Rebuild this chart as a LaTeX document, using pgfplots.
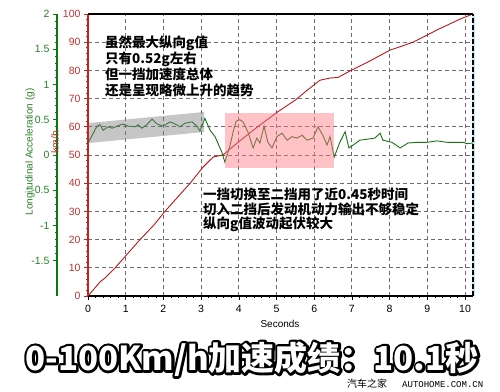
\documentclass[border=0pt]{standalone}
\usepackage{pgfplots}
\pgfplotsset{compat=1.18}
\usepackage{fontspec}
\setmainfont{Liberation Sans}
\newfontfamily\cjk{Noto Sans CJK SC}
\newfontfamily\wmono{Liberation Mono}
\definecolor{spd}{RGB}{185,25,25}
\definecolor{raxis}{RGB}{205,30,30}
\definecolor{rlab}{RGB}{190,50,50}
\definecolor{acc}{RGB}{25,115,25}
\definecolor{gaxis}{RGB}{10,120,10}
\definecolor{glab}{RGB}{40,130,40}
\definecolor{gridc}{RGB}{110,110,110}
\definecolor{pinkc}{RGB}{255,120,130}
\definecolor{grayc}{RGB}{120,120,120}
\begin{document}
\begin{tikzpicture}
\useasboundingbox (0,0) rectangle (500pt,391pt);
% ---------- dashed grid (filled dashes), aligned with the axis box ----------
\begin{scope}[x=1pt, y=1pt, shift={(88pt,95pt)}]
\foreach \t in {1,...,10} {
  \foreach \s in {0,7,...,280} {
    \fill[gridc] ({\t*37.7-0.45},\s) rectangle ({\t*37.7+0.45},{min(\s+4,282)});
  }
}
\foreach \v in {1,...,9} {
  \foreach \s in {0,7,...,378} {
    \fill[gridc] (\s,{\v*28.2-0.45}) rectangle ({min(\s+4,385)},{\v*28.2+0.45});
  }
}
\end{scope}
% ---------- main axis: speed ----------
\begin{axis}[
  at={(88pt,95pt)}, anchor=south west, scale only axis,
  width=385pt, height=282pt,
  xmin=0, xmax=10.212, ymin=0, ymax=100,
  axis x line*=bottom, axis y line*=left,
  x axis line style={black, line width=1.6pt, -},
  y axis line style={raxis, line width=2pt, -},
  xtick={0,1,...,10}, ytick={0,10,...,100},
  minor x tick num=4, minor y tick num=4,
  tick align=outside, major tick length=4pt, minor tick length=2pt,
  x tick style={black, line width=0.6pt},
  y tick style={raxis, line width=0.7pt},
  /pgf/number format/assume math mode=true,
  ticklabel style={font=\fontsize{10.5}{12}\selectfont},
  yticklabel style={text=rlab},
  xticklabel style={text=black, yshift=-2pt},
  clip=false,
]
\addplot[spd, line width=0.9pt] coordinates {
(0,0) (0.32,5) (0.45,6.4) (0.72,10) (1.05,15) (1.38,20) (1.75,25.2) (2.04,30)
(2.36,34.8) (2.71,40) (3.05,45.7) (3.32,49.3) (3.58,50) (3.8,52.5) (4.1,55.8)
(4.5,60) (5.0,65) (5.5,69.5) (5.8,72.8) (6.15,76.5) (6.42,77.3) (6.63,77.5)
(6.95,79.8) (7.5,83.5) (8.01,87.2) (8.3,88.5) (8.62,90) (8.99,92.5) (9.25,94.3)
(9.52,96) (9.87,98.2) (10.21,100)
};
\draw[black, line width=1.2pt] (axis cs:0,100) -- (axis cs:10.212,100);
\draw[cyan!25, line width=2.5pt] (axis cs:10.228,0) -- (axis cs:10.228,100);
\draw[black, line width=1.2pt, dash pattern=on 5pt off 2pt] (axis cs:10.212,0) -- (axis cs:10.212,100);
\end{axis}
% ---------- second axis: acceleration ----------
\begin{axis}[
  at={(57pt,95pt)}, anchor=south west, scale only axis,
  width=416pt, height=282pt,
  xmin=-0.8223, xmax=10.212, ymin=-2, ymax=2,
  hide x axis, axis y line*=left,
  y axis line style={gaxis, line width=2pt, -},
  ytick={-1.5,-1,-0.5,0,0.5,1,1.5,2},
  yticklabels={-1.5,-1,-0.5,0,0.5,1,1.5,2},
  minor y tick num=4,
  tick align=outside, major tick length=4pt, minor tick length=2pt,
  y tick style={gaxis, line width=0.7pt},
  ticklabel style={font=\fontsize{10.5}{12}\selectfont},
  yticklabel style={text=glab},
  clip=false,
]
\addplot[acc, line width=0.9pt] coordinates {
(0,0.17) (0.24,0.41) (0.32,0.43) (0.40,0.35) (0.53,0.40) (0.64,0.38) (0.77,0.41)
(0.93,0.44) (1.06,0.41) (1.25,0.40) (1.33,0.43) (1.43,0.38) (1.56,0.43) (1.70,0.51)
(1.83,0.44) (1.99,0.41) (2.18,0.47) (2.31,0.44) (2.44,0.40) (2.57,0.45) (2.76,0.47)
(2.89,0.41) (2.97,0.34) (3.10,0.52) (3.24,0.35) (3.37,0.26) (3.55,0.04) (3.63,-0.10)
(3.77,0.14) (3.85,0.33) (3.93,0.48) (4.03,0.50) (4.11,0.47) (4.24,0.33) (4.38,0.10)
(4.48,0.24) (4.56,0.17) (4.67,0.41) (4.77,0.18) (4.88,0.10) (5.01,0.26) (5.15,0.31)
(5.28,0.21) (5.41,0.26) (5.54,0.24) (5.68,0.28) (5.81,0.21) (5.97,0.24) (6.10,0.40)
(6.23,0.28) (6.34,0.14) (6.42,0.26) (6.53,-0.03) (6.68,0.18) (6.82,0.33) (6.92,0.10)
(7.03,0.14) (7.21,0.21) (7.48,0.23) (7.61,0.24) (7.75,0.31) (7.82,0.21) (8.06,0.18)
(8.28,0.10) (8.49,0.17) (8.73,0.18) (8.99,0.18) (9.26,0.20) (9.52,0.18) (9.79,0.18)
(9.95,0.18) (10.05,0.16) (10.21,0.17)
};
\fill[pinkc, opacity=0.45] (axis cs:3.63,-0.184) rectangle (axis cs:6.53,0.596);
\fill[grayc, opacity=0.42] (axis cs:0.03,0.17) -- (axis cs:3.08,0.326) -- (axis cs:3.08,0.61) -- (axis cs:0.03,0.454) -- cycle;
\end{axis}
% ---------- labels ----------
\node[rotate=90, text=glab, font=\fontsize{10}{12}\selectfont] at (30pt,239pt) {Longitudinal Acceleration (g)};
\node[rotate=90, text=rlab, font=\fontsize{10.5}{12}\selectfont] at (55pt,249pt) {km/h};
\node[font=\fontsize{10}{12}\selectfont] at (280pt,67pt) {Seconds};
% ---------- annotations ----------
\begin{scope}[every node/.style={anchor=base west, inner sep=0pt, font=\cjk\bfseries\fontsize{13.5}{15}\selectfont}]
\node at (105pt,343.4pt) {虽然最大纵向g值};
\node at (105pt,327.4pt) {只有0.52g左右};
\node at (105pt,311.4pt) {但一挡加速度总体};
\node at (105pt,295.4pt) {还是呈现略微上升的趋势};
\node at (203pt,191pt) {一挡切换至二挡用了近0.45秒时间};
\node at (203pt,176.5pt) {切入二挡后发动机动力输出不够稳定};
\node at (203pt,162pt) {纵向g值波动起伏较大};
\end{scope}
% ---------- title with outline ----------
\node[text=black, inner sep=0pt, font=\cjk\bfseries\fontsize{33}{36}\selectfont] at (252pt,32pt)
  {\special{pdf:literal direct 2 Tr 5 w 1 j 0 G}0-100Km/h加速成绩：10.1秒\special{pdf:literal direct 0 Tr 1 w}};
\node[text=white, inner sep=0pt, font=\cjk\bfseries\fontsize{33}{36}\selectfont] at (252pt,32pt) {0-100Km/h加速成绩：10.1秒};
% ---------- watermark ----------
\node[anchor=base west, inner sep=0pt, font=\cjk\fontsize{10}{12}\selectfont] at (347pt,4pt) {汽车之家};
\node[anchor=base west, inner sep=0pt, font=\wmono\fontsize{9}{11}\selectfont] at (402pt,4pt) {AUTOHOME.COM.CN};
\end{tikzpicture}
\end{document}
